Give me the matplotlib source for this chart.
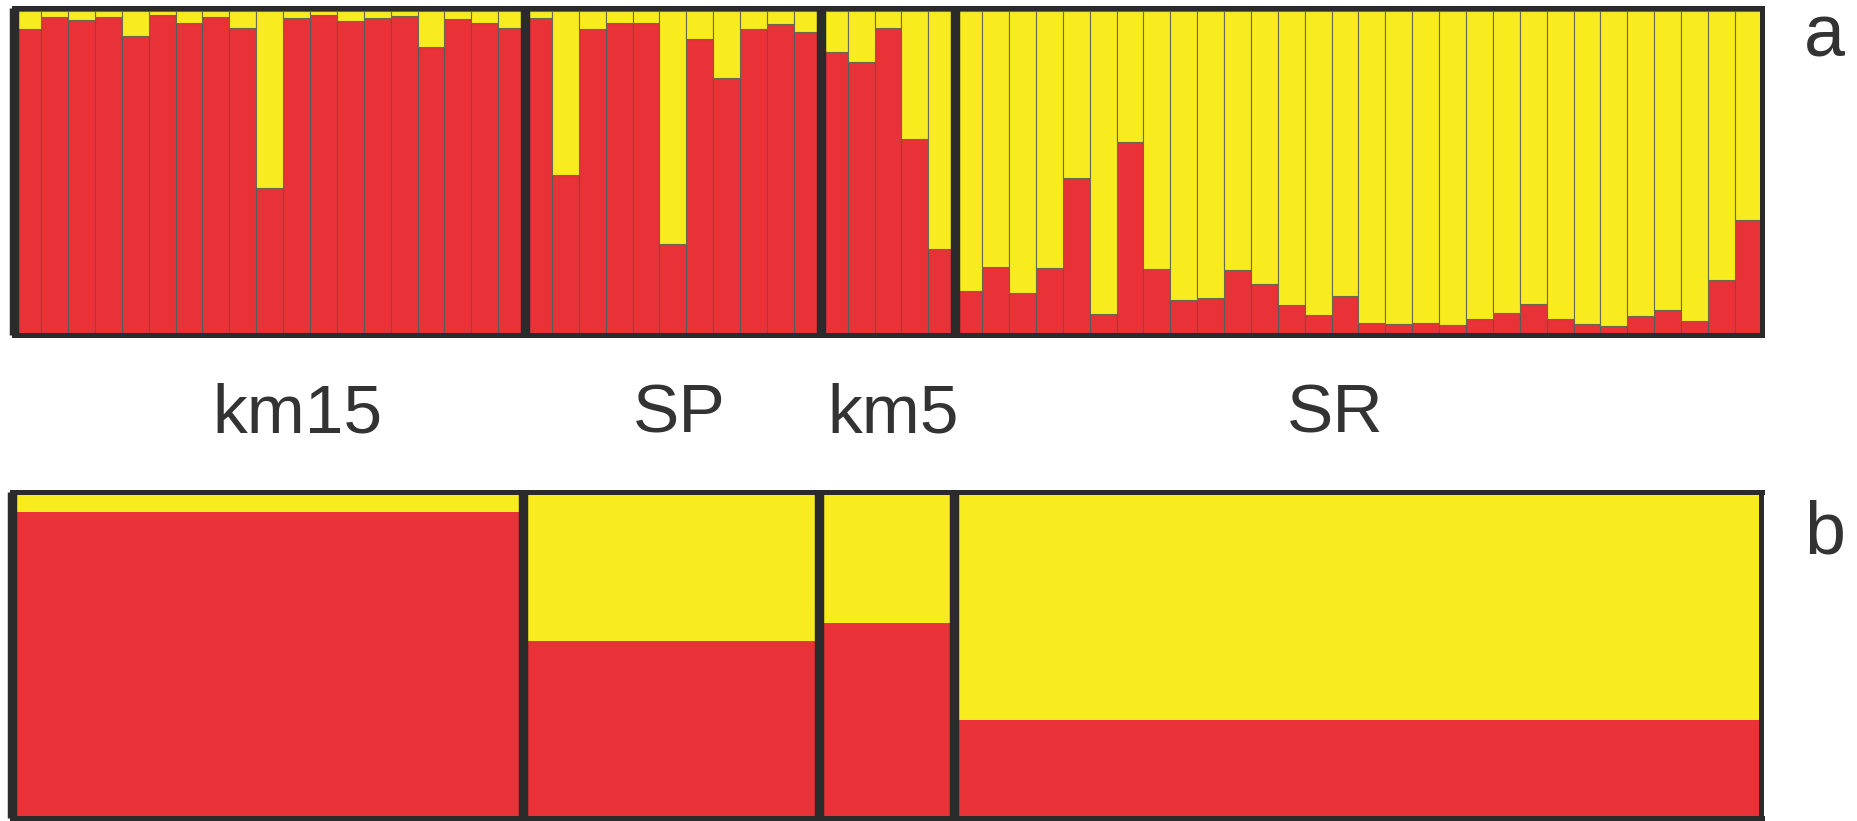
#Structure plot: individual memberships (a) and population means (b), K=2.
import matplotlib.pyplot as plt
import matplotlib.transforms as mtransforms
import numpy as np

plt.rcParams['font.family'] = ['Liberation Sans', 'DejaVu Sans']

pops = ["km15", "SP", "km5", "SR"]

# proportion of cluster 1 (red) for each individual, cluster 2 (yellow) is the rest
km15_red = [0.943, 0.981, 0.972, 0.981, 0.922, 0.987, 0.962, 0.979, 0.947, 0.45,
            0.976, 0.986, 0.969, 0.976, 0.984, 0.887, 0.975, 0.962, 0.947]
sp_red = [0.976, 0.49, 0.943, 0.961, 0.961, 0.276, 0.911, 0.79, 0.944, 0.957, 0.934]
km5_red = [0.87, 0.839, 0.945, 0.601, 0.259]
sr_red = [0.129, 0.204, 0.124, 0.201, 0.481, 0.059, 0.592, 0.199, 0.101, 0.108,
          0.194, 0.150, 0.087, 0.054, 0.113, 0.030, 0.027, 0.031, 0.025, 0.043,
          0.061, 0.089, 0.042, 0.026, 0.021, 0.051, 0.070, 0.035, 0.163, 0.349]

# population level assignment
pop_red = [0.947, 0.544, 0.600, 0.300]

# label positions along the individual axis
label_x = [10.55, 24.75, 32.7, 49.15]

RED = '#e93237'
YEL = '#f8ec1e'
DARK = '#2b2b2b'
TXT = '#333333'

W, H = 1858, 821
fig = plt.figure(figsize=(W/100, H/100), dpi=100)

def px_axes(x0, x1, ytop, ybot):
    return fig.add_axes([x0/W, 1-ybot/H, (x1-x0)/W, (ybot-ytop)/H])

def frame(ax, groups):
    d = 2.4/322
    ax.set_ylim(-d, 1+d)
    ax.set_xlim(0, 65)
    ax.set_xticks([])
    ax.set_yticks([])
    for s in ['top', 'bottom', 'right']:
        ax.spines[s].set_color(DARK)
        ax.spines[s].set_linewidth(3.6)
    ax.spines['left'].set_visible(False)
    for b in groups:
        ax.axvline(b, color=DARK, lw=6.8, solid_capstyle='butt', clip_on=False, zorder=5)

groups = [km15_red, sp_red, km5_red, sr_red]
sizes = [len(g) for g in groups]
starts = np.concatenate([[0], np.cumsum(sizes)[:-1]])

# a: one bar per individual
ax1 = px_axes(14.3, 1761.7, 8.2, 335)
red = np.concatenate(groups)
x = np.arange(len(red))
ax1.bar(x, red, width=1, align='edge', color=RED, edgecolor='#5a5a5a', linewidth=0.8)
ax1.bar(x, 1-red, bottom=red, width=1, align='edge', color=YEL, edgecolor='#6a6a50', linewidth=0.8)
frame(ax1, starts)

# b: one bar per population
ax2 = px_axes(12, 1761.5, 492.2, 818.3)
pr = np.array(pop_red)
ax2.bar(starts, pr, width=sizes, align='edge', color=RED, linewidth=0)
ax2.bar(starts, 1-pr, bottom=pr, width=sizes, align='edge', color=YEL, linewidth=0)
frame(ax2, starts)

trans = mtransforms.blended_transform_factory(ax1.transData, fig.transFigure)
for name, lx in zip(pops, label_x):
    ax1.text(lx, 1-432.6/H, name, transform=trans, ha='center', va='baseline',
             fontsize=50, color=TXT)

fig.text(1804/W, 1-56.7/H, 'a', ha='left', va='baseline', fontsize=53, color=TXT)
fig.text(1804/W, 1-553.3/H, 'b', ha='left', va='baseline', fontsize=53, color=TXT)

plt.savefig('out.png', dpi=100)
